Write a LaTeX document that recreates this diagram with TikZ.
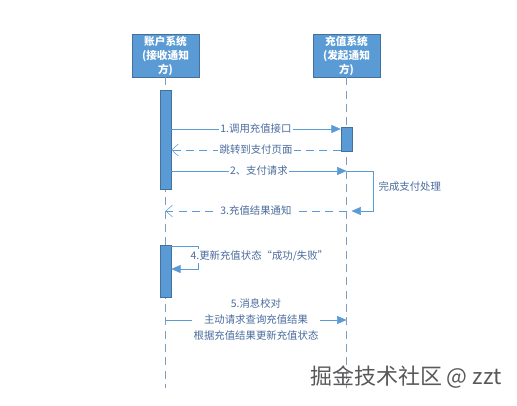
\documentclass[tikz,border=0pt]{standalone}
\usepackage{fontspec}
\setmainfont{Noto Sans CJK SC}
\usetikzlibrary{arrows.meta, positioning}
\definecolor{boxfill}{HTML}{5B9BD5}
\definecolor{boxline}{HTML}{41719C}
\definecolor{msgline}{HTML}{5B9BD5}
\definecolor{lifeline}{HTML}{7F9DBF}
\definecolor{labeltext}{HTML}{4A6C9E}

\begin{document}
\begin{tikzpicture}[x=0.75pt, y=-0.75pt,
      sys/.style={draw=boxline, fill=boxfill, text=white, font=\bfseries\fontsize{8}{10.5}\selectfont,
                  minimum width=50.25pt, minimum height=32.25pt, inner sep=1pt, align=center},
      act/.style={draw=boxline, fill=boxfill, minimum width=8.25pt, inner sep=0pt},
      life/.style={draw=lifeline, thin, dash pattern=on 6pt off 4pt},
      call/.style={draw=msgline, thin, -{Triangle[length=7pt,width=6pt]}},
      reply/.style={draw=msgline, thin, dash pattern=on 6pt off 4pt, -{Straight Barb[length=5pt,width=9pt]}},
      lbl/.style={text=labeltext, font=\fontsize{7.8}{12}\selectfont, fill=white, inner sep=1pt, align=center}]

    \useasboundingbox (0,0) rectangle (517,406);

    % Participants and lifelines
    \node[sys] (acct) at (165.5, 55.5) {账户系统\\(接收通知\\方)};
    \node[sys] (chg)  at (346.5, 55.5) {充值系统\\(发起通知\\方)};
    \coordinate (acctEnd) at (165.5, 388);
    \coordinate (chgEnd)  at (346.5, 388);
    \draw[life] (acct) -- (acctEnd);
    \draw[life] (chg) -- (chgEnd);

    % Activation bars
    \node[act, minimum height=74.25pt] (bar1) at (165.5, 139.5) {};
    \node[act, minimum height=18pt]    (bar2) at (346.5, 139)   {};
    \node[act, minimum height=39pt]    (bar3) at (165.5, 271)   {};

    % Message rows
    \coordinate (y1) at (0, 129);
    \coordinate (y2) at (0, 150);
    \coordinate (y3) at (0, 171);
    \coordinate (y4) at (0, 211);
    \coordinate (y5) at (0, 246);
    \coordinate (y6) at (0, 269);
    \coordinate (y7) at (0, 320);
    \coordinate (loopR) at (373, 0);
    \coordinate (loopS) at (198, 0);

    \draw[call] (bar1.east |- y1) -- (bar2.west |- y1) node[lbl, midway] {1.调用充值接口};
    \draw[reply] (bar2.west |- y2) -- (bar1.east |- y2) node[lbl, midway] {跳转到支付页面};
    \draw[call] (bar1.east |- y3) -- (chgEnd |- y3) node[lbl, midway] {2、支付请求};
    \draw[call] (chgEnd |- y3) -- (loopR |- y3) -- (loopR |- y4) -- ([xshift=3.75pt]chgEnd |- y4);
    \node[lbl, anchor=west] (done) at (377, 187) {完成支付处理};
    \draw[reply] (chgEnd |- y4) -- (acctEnd |- y4) node[lbl, midway] {3.充值结果通知};

    \draw[call] (bar3.east |- y5) -- (loopS |- y5) -- (loopS |- y6) -- (bar3.east |- y6);
    \node[lbl, anchor=west] (upd) at (189, 256) {4.更新充值状态“成功/失败”};

    \draw[call] (acctEnd |- y7) -- (chgEnd |- y7)
        node[lbl, midway] {5.消息校对\\主动请求查询充值结果\\根据充值结果更新充值状态};

    % Watermark
    \node[text=black!65, font=\fontsize{16.5}{18}\selectfont] (mark) at (406, 377) {掘金技术社区 @ zzt};

\end{tikzpicture}
\end{document}
